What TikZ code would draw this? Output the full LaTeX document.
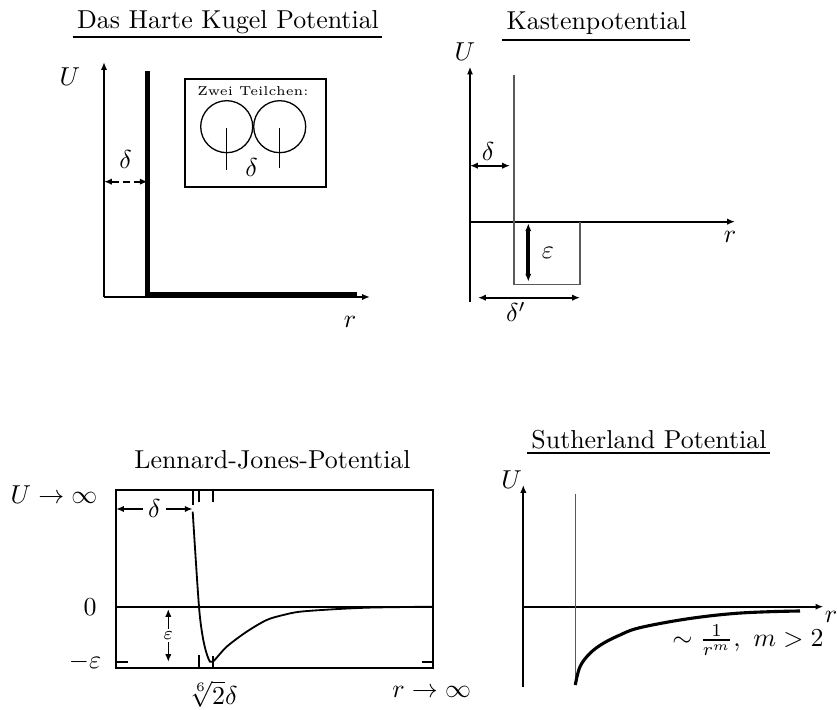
\documentclass[tikz,border=0pt]{standalone}
\usepackage{amsmath}
\usetikzlibrary{arrows.meta}

\begin{document}
\begin{tikzpicture}[
    x=0.01357cm, y=-0.01357cm,
    axis/.style={line width=0.8pt, -{Latex[length=3pt,width=2.4pt]}},
    dimarrow/.style={line width=0.8pt, {Latex[length=3pt,width=2.4pt]}-{Latex[length=3pt,width=2.4pt]}},
    wall/.style={line width=1.8pt},
    thinline/.style={line width=0.45pt, black!65},
    title/.style={inner sep=0pt, anchor=base},
    ul/.style={line width=0.8pt},
    lbl/.style={inner sep=1pt}
]
\useasboundingbox (0,0) rectangle (837,710);

% Das Harte Kugel Potential
\node[title] (hktitle) at (228,28.3) {Das Harte Kugel Potential};
\draw[ul] ([xshift=-1.5pt,yshift=-3.5pt]hktitle.base west) -- ([xshift=1pt,yshift=-3.5pt]hktitle.base east);
\node[lbl] (hkU) at (70,77) {$U$};
\node[lbl] (hkr) at (350,322) {$r$};
\draw[axis] (104,297) -- (104,62);
\draw[axis] (104,297) -- (370,297);
\draw[wall] (147.7,71) -- (147.7,294) -- (357,294);
\draw[dimarrow, dash pattern=on 3pt off 1.5pt] (104,181.7) -- (147.7,181.7);
\node[lbl] (hkdelta) at (125.7,160) {$\delta$};

% Zwei Teilchen
\draw[line width=0.8pt] (185,79) rectangle (325.7,186.7);
\node[font=\tiny, inner sep=0pt] (zwei) at (253,90.7) {Zwei Teilchen:};
\draw[line width=0.5pt] (226.7,126.7) circle[radius=26];
\draw[line width=0.5pt] (279.7,126.7) circle[radius=26];
\draw[line width=0.5pt] (226.7,128) -- (226.7,170);
\draw[line width=0.5pt] (279.7,128) -- (279.7,168);
\node[lbl] (zweidelta) at (251.7,168) {$\delta$};

% Kastenpotential
\node[title] (kasttitle) at (596.7,30) {Kastenpotential};
\draw[ul] ([xshift=-1.5pt,yshift=-3.9pt]kasttitle.base west) -- ([xshift=1pt,yshift=-3.9pt]kasttitle.base east);
\node[lbl] (kastU) at (465,51.7) {$U$};
\node[lbl] (kastr) at (730,236.7) {$r$};
\draw[axis] (470,301.7) -- (470,66.7);
\draw[axis] (470,221.7) -- (735,221.7);
\draw[thinline] (514,75) -- (514,284.3) -- (580,284.3) -- (580,221.7);
\draw[dimarrow] (470,165.7) -- (510,165.7);
\node[lbl] (kastdelta) at (488,151.7) {$\delta$};
\draw[dimarrow, line width=1.5pt] (528.3,223.3) -- (528.3,281.7);
\node[lbl] (kasteps) at (548,253) {$\varepsilon$};
\draw[dimarrow] (478,297.7) -- (580,297.7);
\node[lbl] (kastdeltap) at (516,311.7) {$\delta'$};

% Lennard-Jones-Potential
\node[title] (ljtitle) at (272.5,469) {Lennard-Jones-Potential};
\node[lbl] (ljU) at (54,495) {$U\to\infty$};
\node[lbl] (ljzero) at (90,606.7) {$0$};
\node[lbl] (ljmeps) at (85,662) {$-\varepsilon$};
\node[lbl] (ljrmin) at (213.3,694) {$\sqrt[6]{2}\delta$};
\node[lbl] (ljr) at (431.7,692) {$r\to\infty$};
\draw[line width=0.7pt] (116,490) rectangle (433.3,667.7);
\draw[line width=0.7pt] (116,606.7) -- (433.3,606.7);
\draw[line width=0.7pt] (192.7,490) -- (192.7,505);
\draw[line width=0.7pt] (199,490) -- (199,501.7);
\draw[line width=0.7pt] (212.7,490) -- (212.7,501.7);
\draw[line width=0.7pt] (199,667.7) -- (199,655);
\draw[line width=0.7pt] (212.7,667.7) -- (212.7,656);
\draw[line width=0.7pt] (116,662) -- (128,662);
\draw[line width=0.7pt] (421.7,662) -- (433.3,662);
\draw[dimarrow] (116,509) -- node[fill=white, inner sep=2pt] (ljdelta) {$\delta$} (192.7,509);
\draw[dimarrow, line width=0.6pt] (168.3,609) -- node[fill=white, inner sep=1pt, font=\scriptsize] (ljeps) {$\varepsilon$} (168.3,662);
\draw[line width=0.7pt] plot[smooth, tension=0.5] coordinates {(192.7,511.7) (199,606.7) (203.3,640) (208.3,658.3) (212.7,661.7) (226.7,646.7) (246.7,631.7) (266.7,620) (283.3,615) (300,611.7) (333.3,609.3) (366.7,607.7) (400,607.1) (433,606.7)};

% Sutherland Potential
\node[title] (suttitle) at (649,448.3) {Sutherland Potential};
\draw[ul] ([xshift=-1.5pt,yshift=-1.9pt]suttitle.base west) -- ([xshift=1pt,yshift=-1.9pt]suttitle.base east);
\node[lbl] (sutU) at (511.7,480) {$U$};
\node[lbl] (sutr) at (831,616.7) {$r$};
\draw[axis] (523.3,686.7) -- (523.3,485);
\draw[axis] (523.3,606.7) -- (823.3,606.7);
\draw[thinline] (575.3,494) -- (575.3,685);
\draw[line width=1.2pt] plot[smooth, tension=0.6] coordinates {(575.3,685) (580,666.7) (590,653.3) (603.3,643.3) (620,635) (636.7,628.5) (670,621.7) (703.3,616.7) (736.7,613.3) (770,611.7) (800,611)};
\node[lbl] (sutlaw) at (748,640) {$\sim\frac{1}{r^m},\ m>2$};

\end{tikzpicture}
\end{document}
